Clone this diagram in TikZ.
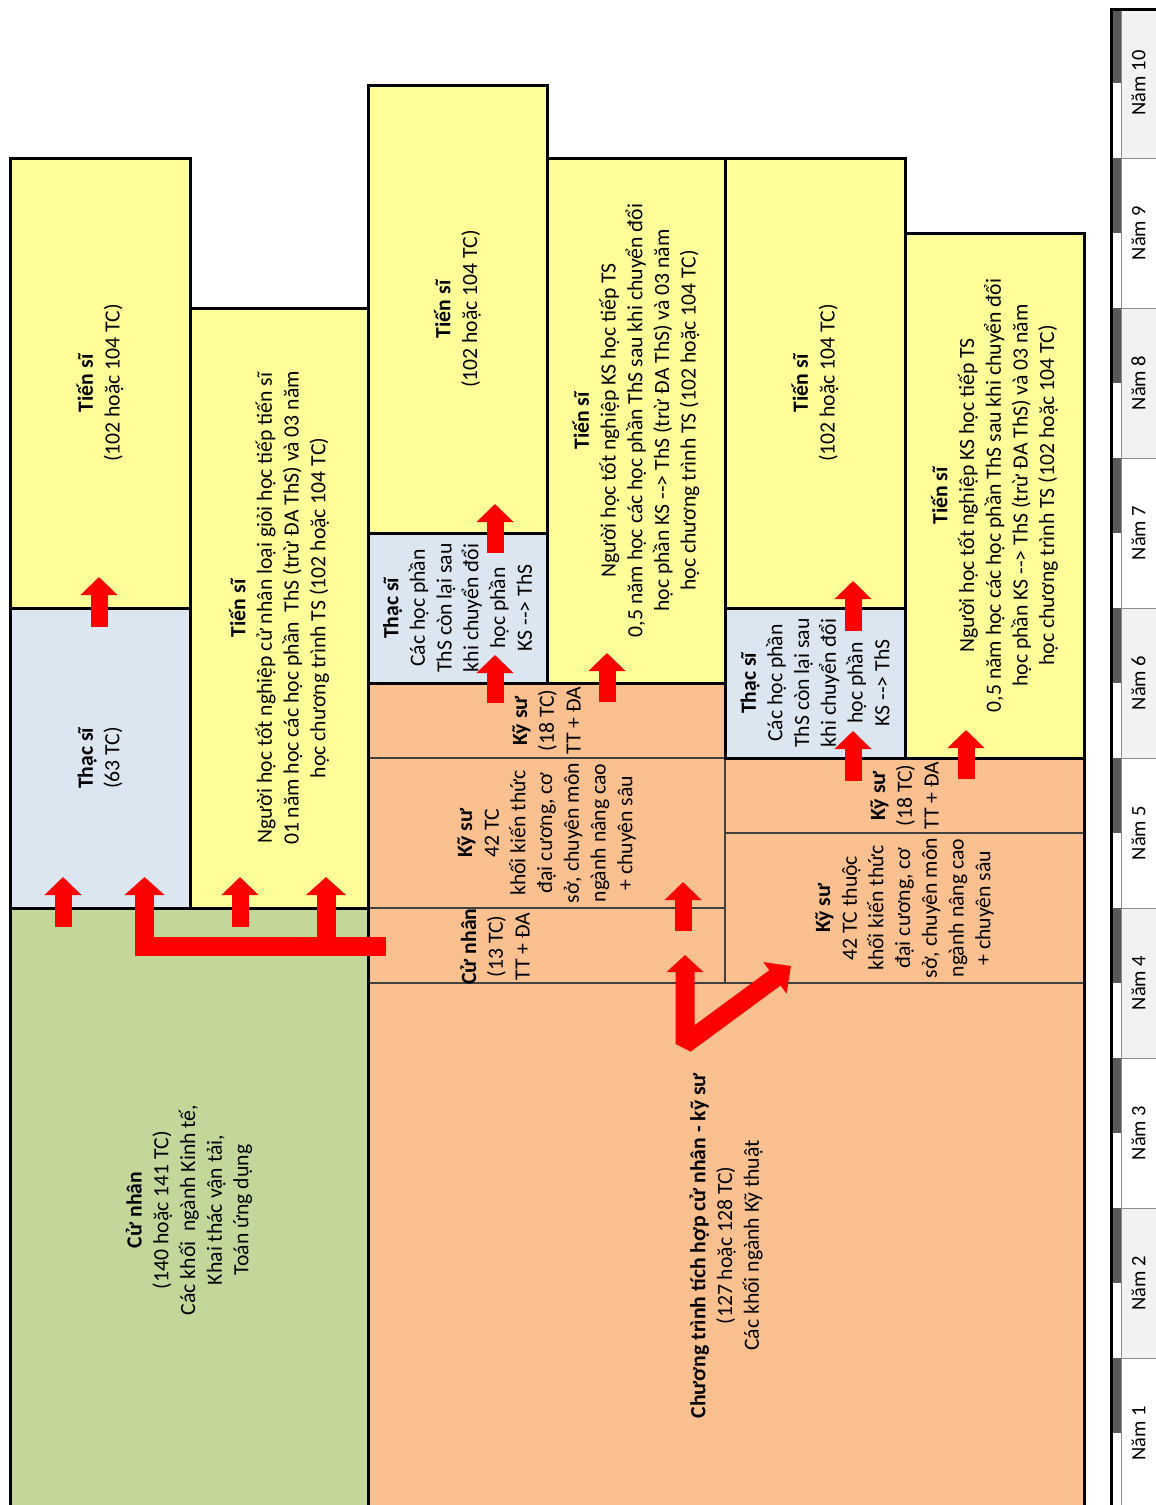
\documentclass[tikz,border=0pt]{standalone}
\usepackage{fontspec}
\setmainfont{Carlito}
\usetikzlibrary{arrows.meta}
\definecolor{yelbox}{HTML}{FFFF99}
\definecolor{bluebox}{HTML}{DCE6F1}
\definecolor{greenbox}{HTML}{C4D79B}
\definecolor{orbox}{HTML}{FAC090}
\definecolor{thinline}{HTML}{404040}
\definecolor{yeargrey}{HTML}{F2F2F2}
\definecolor{stripdark}{HTML}{595959}
\definecolor{arrred}{HTML}{FF0000}
\newcommand{\boxfont}{\fontsize{21.7pt}{26.7pt}\selectfont}
\newcommand{\ksths}{KS -\kern0pt-\kern0pt> ThS}
\begin{document}
\begin{tikzpicture}[x=1pt,y=-1pt,
  box/.style={rotate=90, draw=black, line width=3pt, inner sep=0pt, align=center, font=\boxfont},
  obox/.style={rotate=90, draw=thinline, line width=1.5pt, fill=orbox, inner sep=0pt, align=center, font=\boxfont},
  txt/.style={rotate=90, inner sep=0pt, align=center, font=\boxfont},
  blockarrow/.style={draw=arrred, line width=17pt, -{Triangle[width=36pt,length=18pt]}},
  bentarrow/.style={draw=arrred, line width=19pt, line join=miter, -{Triangle[width=39pt,length=18pt]}},
  vee/.style={draw=arrred, line width=19pt, line join=bevel, {Triangle[width=36pt,length=17pt]}-{Triangle[width=38pt,length=20pt]}},
  yearcell/.style={rotate=90, draw=black!45, line width=0.8pt, inner sep=0pt, minimum width=150pt, minimum height=35pt, font=\fontsize{20.5pt}{22pt}\selectfont}
]
\useasboundingbox (0,0) rectangle (1156,1505);

% ---------- orange integrated programme ----------
\node[obox, minimum width=525pt, minimum height=716pt] (big) at (726,1245.5)
  {\textbf{Chương trình tích hợp cử nhân - kỹ sư}\\(127 hoặc 128 TC)\\Các khối ngành Kỹ thuật};
\node[obox, minimum width=75pt, minimum height=357pt] (ks18a) at (546.5,720.5)
  {\textbf{Kỹ sư}\\(18 TC)\\TT + ĐA};
\node[obox, minimum width=150pt, minimum height=357pt] (ks42a) at (546.5,833)
  {\textbf{Kỹ sư}\\42 TC\\khối kiến thức\\đại cương, cơ\\sở, chuyên môn\\ngành nâng cao\\+ chuyên sâu};
\node[obox, minimum width=75pt, minimum height=357pt] (cn13) at (546.5,945.5) {};
\node[txt] (cn13t) at (495,946.5) {\textbf{Cử nhân}\\(13 TC)\\TT + ĐA};
\node[obox, minimum width=75pt, minimum height=359pt] (ks18b) at (904.5,795.5)
  {\textbf{Kỹ sư}\\(18 TC)\\TT + ĐA};
\node[obox, minimum width=150pt, minimum height=359pt] (ks42b) at (904.5,908)
  {\textbf{Kỹ sư}\\42 TC thuộc\\khối kiến thức\\đại cương, cơ\\sở, chuyên môn\\ngành nâng cao\\+ chuyên sâu};
\draw[line width=3pt, line join=miter] (368,683) -- (725,683) -- (725,758) -- (1084,758) -- (1084,1512);

% ---------- left column ----------
\node[box, fill=greenbox, minimum width=604pt, minimum height=358pt] (cn) at (189,1210)
  {\textbf{Cử nhân}\\(140 hoặc 141 TC)\\Các khối~ ngành Kinh tế,\\Khai thác vận tải,\\Toán ứng dụng};
\node[box, fill=bluebox, minimum width=300pt, minimum height=180pt] (thsL) at (100,758)
  {\textbf{Thạc sĩ}\\(63 TC)};
\node[box, fill=yelbox, minimum width=450pt, minimum height=180pt] (tsL) at (100,383)
  {\textbf{Tiến sĩ}\\(102 hoặc 104 TC)};
\node[box, fill=yelbox, minimum width=600pt, minimum height=178pt] (tsL2) at (279,608)
  {\textbf{Tiến sĩ}\\Người học tốt nghiệp cử nhân loại giỏi học tiếp tiến sĩ\\01 năm học các học phần~ ThS (trừ ĐA ThS) và 03 năm\\học chương trình TS (102 hoặc 104 TC)};

% ---------- middle column ----------
\node[box, fill=yelbox, minimum width=448pt, minimum height=179pt] (ts3) at (457.5,309)
  {\textbf{Tiến sĩ}\\(102 hoặc 104 TC)};
\node[box, fill=bluebox, minimum width=150pt, minimum height=179pt] (ths3) at (457.5,608)
  {\textbf{Thạc sĩ}\\Các học phần\\ThS còn lại sau\\khi chuyển đổi\\học phần\\\ksths};
\node[box, fill=yelbox, minimum width=525pt, minimum height=178pt] (ts4) at (636,420.5)
  {\textbf{Tiến sĩ}\\Người học tốt nghiệp KS học tiếp TS\\0,5 năm học các học phần ThS sau khi chuyển đổi\\học phần \ksths{} (trừ ĐA ThS) và 03 năm\\học chương trình TS (102 hoặc 104 TC)};

% ---------- right column ----------
\node[box, fill=yelbox, minimum width=450pt, minimum height=180pt] (ts5) at (815,383)
  {\textbf{Tiến sĩ}\\(102 hoặc 104 TC)};
\node[box, fill=bluebox, minimum width=150pt, minimum height=180pt] (ths5) at (815,683)
  {\textbf{Thạc sĩ}\\Các học phần\\ThS còn lại sau\\khi chuyển đổi\\học phần\\\ksths};
\node[box, fill=yelbox, minimum width=525pt, minimum height=179pt] (ts6) at (994.5,495.5)
  {\textbf{Tiến sĩ}\\Người học tốt nghiệp KS học tiếp TS\\0,5 năm học các học phần ThS sau khi chuyển đổi\\học phần \ksths{} (trừ ĐA ThS) và 03 năm\\học chương trình TS (102 hoặc 104 TC)};

% ---------- year axis ----------
\foreach \i in {2,4,...,10} {
  \node[yearcell, fill=yeargrey] (yc\i) at (1138.5,1583-150*\i) {Năm \i};
}
\foreach \i in {1,3,...,9} {
  \node[yearcell, fill=white] (yc\i) at (1138.5,1583-150*\i) {Năm \i};
}
\foreach \i in {1,...,10} {
  \fill[white] (1112,1508-150*\i) rectangle (1121,1658-150*\i);
  \fill[stripdark] (1112,1508-150*\i) rectangle (1121,1583-150*\i);
  \draw[black!45, line width=0.6pt] (1121,1508-150*\i) -- (1121,1658-150*\i);
}
\draw[line width=3pt] (1156,9.5) -- (1111,9.5) -- (1111,1510);

% ---------- arrows ----------
\coordinate (a1s) at (63,927);   \coordinate (a1e) at (63,877);
\coordinate (a3s) at (240,927);  \coordinate (a3e) at (240,877);
\coordinate (a4s) at (99,627);   \coordinate (a4e) at (99,577);
\coordinate (a5s) at (495,553);  \coordinate (a5e) at (495,504);
\coordinate (a6s) at (495,703);  \coordinate (a6e) at (495,655);
\coordinate (a7s) at (607,702);  \coordinate (a7e) at (607,653);
\coordinate (a8s) at (683,931);  \coordinate (a8e) at (683,882);
\coordinate (a10s) at (853,631); \coordinate (a10e) at (853,581);
\coordinate (a11s) at (853,781); \coordinate (a11e) at (853,731);
\coordinate (a12s) at (966,779); \coordinate (a12e) at (966,730);
\coordinate (bstart) at (386,946); \coordinate (bcorner) at (144.5,946);
\coordinate (btip) at (144.5,877); \coordinate (bbranch) at (326,954); \coordinate (btip2) at (326,877);
\coordinate (vup) at (685,955); \coordinate (vcorner) at (685,1044); \coordinate (vdiag) at (791,966);

\foreach \a in {1,3,4,5,6,7,8,10,11,12} {
  \draw[blockarrow] (a\a s) -- (a\a e);
}
\draw[bentarrow] (bstart) -- (bcorner) -- (btip);
\draw[bentarrow] (bbranch) -- (btip2);
\draw[vee] (vup) -- (vcorner) -- (vdiag);
\end{tikzpicture}
\end{document}
